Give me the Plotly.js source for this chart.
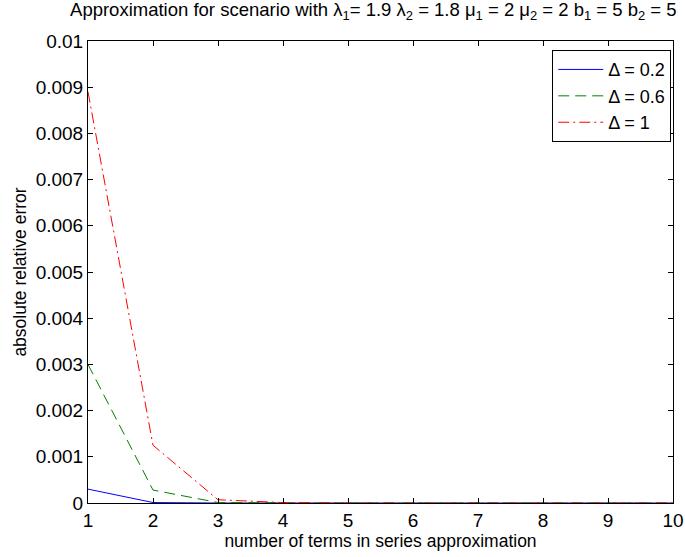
<!DOCTYPE html>
<html>
<head>
<meta charset="utf-8">
<script src="https://cdn.plot.ly/plotly-3.0.1.min.js"></script>
<style>html,body{margin:0;padding:0;background:#fff;}#chart{width:685px;height:557px;}</style>
</head>
<body>
<div id="chart"></div>
<script>
var terms = [1, 2, 3, 4, 5, 6, 7, 8, 9, 10];
var errDelta02 = [0.0003, 0.00001, 0, 0, 0, 0, 0, 0, 0, 0];
var errDelta06 = [0.003, 0.00028, 0.00001, 0, 0, 0, 0, 0, 0, 0];
var errDelta1 = [0.0089, 0.00125, 0.00007, 0.00001, 0, 0, 0, 0, 0, 0];
var seriesNames = ['\u0394 = 0.2', '\u0394 = 0.6', '\u0394 = 1'];
var yTickVals = [0, 0.001, 0.002, 0.003, 0.004, 0.005, 0.006, 0.007, 0.008, 0.009, 0.01];
var yTickText = ['0', '0.001', '0.002', '0.003', '0.004', '0.005', '0.006', '0.007', '0.008', '0.009', '0.01'];
var xTickVals = [1, 2, 3, 4, 5, 6, 7, 8, 9, 10];

var font = 'Liberation Sans, Arial, Helvetica, sans-serif';
var traces = [
  {x: terms, y: errDelta02, name: seriesNames[0], mode: 'lines', line: {color: '#0000ff', width: 1, dash: 'solid'}},
  {x: terms, y: errDelta06, name: seriesNames[1], mode: 'lines', line: {color: '#008000', width: 1, dash: '11px,6px'}},
  {x: terms, y: errDelta1, name: seriesNames[2], mode: 'lines', line: {color: '#ff0000', width: 1, dash: '11px,4px,2px,4px'}}
];
var axisCommon = {
  showgrid: false, zeroline: false, showline: true, linecolor: '#000', linewidth: 1,
  mirror: 'ticks', ticks: 'inside', ticklen: 5, tickcolor: '#000',
  tickfont: {family: font, size: 19, color: '#000'}
};
var layout = {
  width: 685, height: 557,
  margin: {l: 88, r: 12, t: 41, b: 54},
  paper_bgcolor: '#fff', plot_bgcolor: '#fff',
  font: {family: font, color: '#000'},
  title: {
    text: 'Approximation for scenario with \u03bb<sub>1</sub>= 1.9 \u03bb<sub>2</sub> = 1.8 \u03bc<sub>1</sub> = 2 \u03bc<sub>2</sub> = 2 b<sub>1</sub> = 5 b<sub>2</sub> = 5',
    font: {family: font, size: 18.5, color: '#000'},
    x: 0.545, xanchor: 'center', y: 0.995, yanchor: 'top'
  },
  xaxis: Object.assign({}, axisCommon, {
    range: [1, 10], tickvals: xTickVals,
    title: {text: 'number of terms in series approximation', font: {family: font, size: 17.5, color: '#000'}, standoff: 0}
  }),
  yaxis: Object.assign({}, axisCommon, {
    range: [0, 0.01], tickvals: yTickVals, ticktext: yTickText,
    title: {text: 'absolute relative error', font: {family: font, size: 17.5, color: '#000'}, standoff: 4}
  }),
  showlegend: true,
  legend: {
    x: 0.997, xanchor: 'right', y: 0.98, yanchor: 'top',
    bgcolor: '#fff', bordercolor: '#000', borderwidth: 1,
    font: {family: font, size: 18, color: '#000'},
    itemwidth: 45, tracegroupgap: 0
  }
};
Plotly.newPlot('chart', traces, layout, {displayModeBar: false, staticPlot: true});
</script>
</body>
</html>
